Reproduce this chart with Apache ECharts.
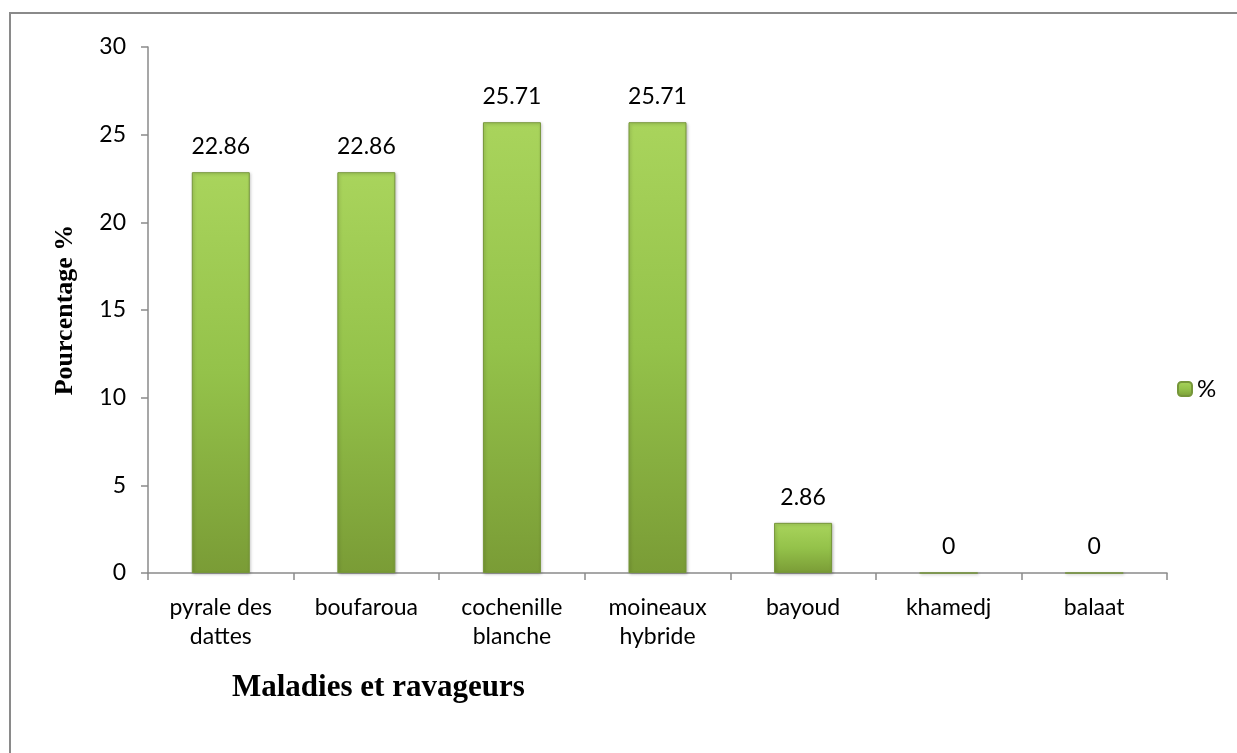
<!DOCTYPE html>
<html>
<head>
<meta charset="utf-8">
<script src="https://cdn.jsdelivr.net/npm/echarts@6/dist/echarts.min.js"></script>
<style>
  html, body { margin: 0; padding: 0; background: #fff; }
  #chart { width: 1237px; height: 753px; }
</style>
</head>
<body>
<div id="chart"></div>
<script>
const categories = ['pyrale des\ndattes', 'boufaroua', 'cochenille\nblanche', 'moineaux\nhybride', 'bayoud', 'khamedj', 'balaat']
const values = [22.86, 22.86, 25.71, 25.71, 2.86, 0, 0]
const seriesName = '%'

const chart = echarts.init(document.getElementById('chart'))

// vert dégradé façon Excel
const barFill = new echarts.graphic.LinearGradient(0, 0, 0, 1, [
  { offset: 0, color: '#a9d45c' },
  { offset: 0.5, color: '#94c24a' },
  { offset: 1, color: '#7a9c36' },
])

const axisColor = '#8a8a8a'
const textFont = "Lato, 'Open Sans', sans-serif"
const titleFont = "'Liberation Serif', 'Times New Roman', serif"

chart.setOption({
  backgroundColor: '#fff',
  animation: false,
  grid: { left: 148, right: 70, top: 47, bottom: 180 },
  legend: {
    data: [seriesName],
    left: 1172,
    top: 372,
    itemWidth: 14,
    itemHeight: 14,
    itemGap: 4,
    textStyle: { fontFamily: textFont, fontSize: 24, color: '#000' },
  },
  xAxis: {
    type: 'category',
    data: categories,
    axisLine: { lineStyle: { color: axisColor, width: 1.5 } },
    axisTick: { show: true, alignWithLabel: false, length: 7, lineStyle: { color: axisColor, width: 1.5 } },
    axisLabel: {
      interval: 0,
      margin: 20,
      color: '#000',
      fontFamily: textFont,
      fontSize: 23,
      lineHeight: 29,
    },
  },
  yAxis: {
    type: 'value',
    min: 0,
    max: 30,
    interval: 5,
    name: 'Pourcentage %',
    nameLocation: 'middle',
    nameGap: 70,
    nameRotate: 90,
    nameTextStyle: {
      fontFamily: titleFont,
      fontWeight: 'bold',
      fontSize: 26,
      color: '#000',
    },
    axisLine: { show: true, lineStyle: { color: axisColor, width: 1.5 } },
    axisTick: { show: true, length: 7, lineStyle: { color: axisColor, width: 1.5 } },
    axisLabel: { color: '#000', fontFamily: textFont, fontSize: 23, margin: 22 },
    splitLine: { show: false },
  },
  series: [
    {
      name: seriesName,
      type: 'bar',
      data: values,
      barWidth: 58,
      itemStyle: {
        color: barFill,
        borderColor: '#76963a',
        borderWidth: 1,
        shadowColor: 'rgba(0,0,0,0.25)',
        shadowBlur: 3,
        shadowOffsetX: 1,
        shadowOffsetY: 1,
      },
      label: {
        show: true,
        position: 'top',
        distance: 14,
        color: '#000',
        fontFamily: textFont,
        fontSize: 23,
      },
    },
  ],
  graphic: [
    {
      type: 'rect',
      shape: { x: 10, y: 13, width: 1240, height: 760 },
      style: { fill: 'none', stroke: '#8a8a8a', lineWidth: 2 },
      silent: true,
    },
    {
      type: 'text',
      left: 232,
      top: 672,
      style: {
        text: 'Maladies et ravageurs',
        font: "bold 31px 'Liberation Serif', 'Times New Roman', serif",
        fill: '#000',
      },
    },
  ],
})
</script>
</body>
</html>
